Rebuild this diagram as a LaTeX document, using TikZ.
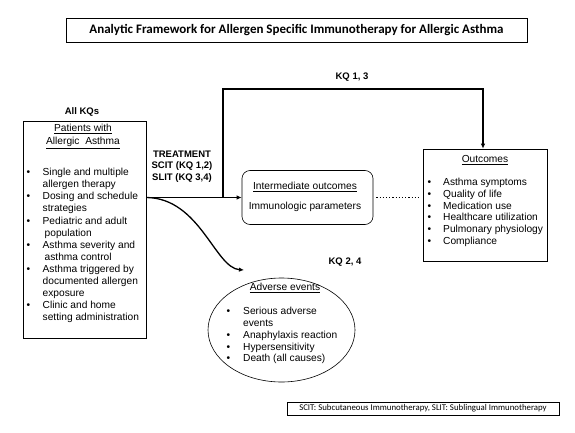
\documentclass[tikz,border=0pt]{standalone}
\usepackage{fontspec}
\setmainfont{Liberation Sans}
\newfontfamily\calibri{Carlito}
\usepackage{tikz}
\usetikzlibrary{shapes.geometric,arrows.meta}

\tikzset{
  box/.style={draw, line width=0.6pt, inner sep=0pt},
  txt/.style={inner sep=0pt, font=\fontsize{10.2}{12.1}\selectfont},
  hd/.style={inner sep=0pt, font=\fontsize{9.5}{11}\selectfont\bfseries},
  flow/.style={line width=1.3pt, -{Latex[length=5pt,width=4.5pt]}},
}
\newcommand{\itm}{\textbullet}

\begin{document}
\begin{tikzpicture}[x=1pt,y=-1pt]
      \useasboundingbox (0,0) rectangle (575,433);

      % title
      \node[box, minimum width=461pt, minimum height=24pt,
            font=\calibri\fontsize{13}{15}\selectfont\bfseries] (title) at (296.5,30)
            {Analytic Framework for Allergen Specific Immunotherapy for Allergic Asthma};

      % boxes
      \node[box, minimum width=123pt, minimum height=217pt] (patients) at (84.5,229.5) {};
      \node[box, rounded corners=8pt, minimum width=131pt, minimum height=54pt] (inter) at (307.5,197.5) {};
      \node[box, minimum width=124pt, minimum height=112pt] (outcomes) at (485,205) {};
      \node[box, ellipse, minimum width=147pt, minimum height=104pt] (adverse) at (281.5,330) {};
      \node[box, minimum width=272pt, minimum height=13pt,
            font=\calibri\fontsize{8.8}{10}\selectfont] (note) at (423,408.5)
            {SCIT: Subcutaneous Immunotherapy, SLIT: Sublingual Immunotherapy};

      % labels
      \node[hd] (allkq) at (82,112) {All KQs};
      \node[hd] (kq13) at (352,77) {KQ 1, 3};
      \node[hd] (kq24) at (345,262) {KQ 2, 4};
      \node[hd, align=center, font=\fontsize{9.5}{11.5}\selectfont\bfseries] (treat) at (182,166.5)
            {TREATMENT\\SCIT (KQ 1,2)\\SLIT (KQ 3,4)};

      % patients
      \node[txt, align=center, font=\fontsize{10.2}{13}\selectfont] (phead) at (83,136.5)
            {\underline{Patients with}\\\underline{Allergic\ \ Asthma}};
      \node[txt, anchor=north west] (plist) at (26.5,167) {\begin{tabular}{@{}p{16pt}@{}l@{}}
        \itm & Single and multiple\\
             & allergen therapy\\
        \itm & Dosing and schedule\\
             & strategies\\
        \itm & Pediatric and adult\\
             & \hspace{2pt}population\\
        \itm & Asthma severity and\\
             & \hspace{2pt}asthma control\\
        \itm & Asthma triggered by\\
             & documented allergen\\
             & exposure\\
        \itm & Clinic and home\\
             & setting administration
      \end{tabular}};

      % intermediate
      \node[txt] (ihead) at (305,187) {\underline{Intermediate outcomes}};
      \node[txt] (iparam) at (305,207) {Immunologic parameters};

      % outcomes
      \node[txt] (ohead) at (485,160) {\underline{Outcomes}};
      \node[txt, anchor=north west, font=\fontsize{10.2}{11.7}\selectfont] (olist) at (427.5,177.3)
            {\begin{tabular}{@{}p{15.5pt}@{}l@{}}
        \itm & Asthma symptoms\\
        \itm & Quality of life\\
        \itm & Medication use\\
        \itm & Healthcare utilization\\
        \itm & Pulmonary physiology\\
        \itm & Compliance
      \end{tabular}};

      % adverse events
      \node[txt] (ahead) at (285,288) {\underline{Adverse events}};
      \node[txt, anchor=north west, font=\fontsize{10.2}{11.8}\selectfont] (alist) at (226.5,306.2)
            {\begin{tabular}{@{}p{16.5pt}@{}l@{}}
        \itm & Serious adverse\\
             & events\\
        \itm & Anaphylaxis reaction\\
        \itm & Hypersensitivity\\
        \itm & Death (all causes)
      \end{tabular}};

      % connectors
      \coordinate (start) at (patients.east |- inter.west);
      \coordinate (split) at (223,197.5);
      \coordinate (kqtop) at (483,89);
      \draw[flow] (start) -- (inter.west);
      \draw[flow] (split) |- (kqtop) -- (kqtop |- outcomes.north);
      \draw[flow] (start) .. controls (200,198) and (215,268) .. (244,270);
      \draw[line width=1.2pt, dotted, shorten <=3pt, shorten >=3pt]
            (inter.east) -- (outcomes.west |- inter.east);
\end{tikzpicture}
\end{document}
